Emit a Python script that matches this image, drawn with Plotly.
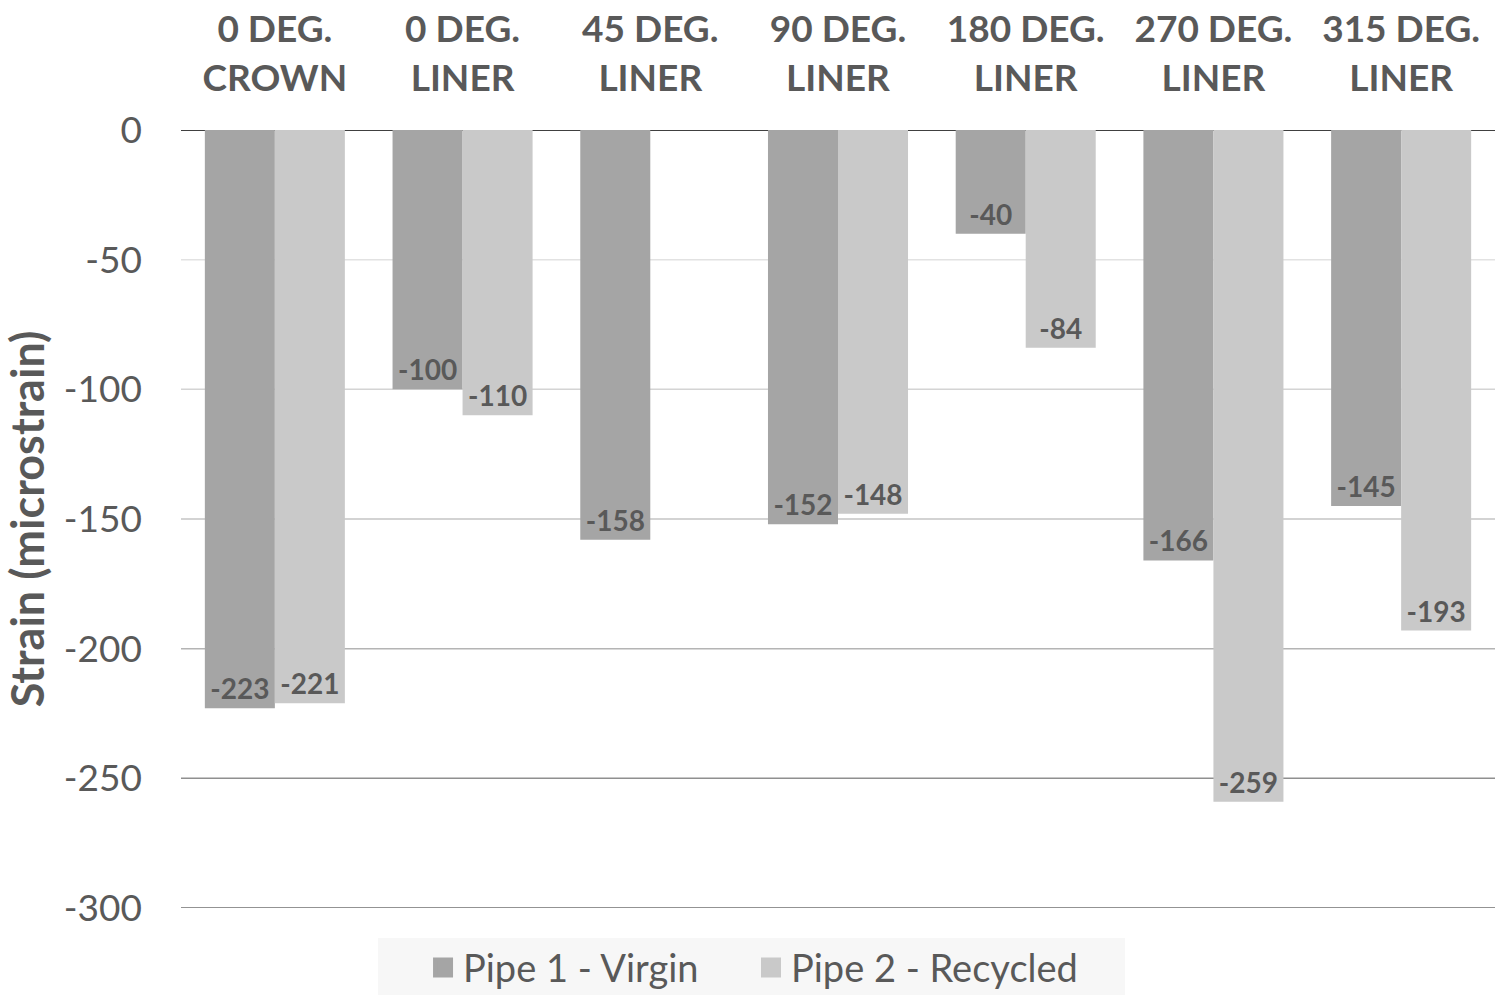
import plotly.graph_objects as go

# Strain measured at each gauge location
locations = ["0 DEG.<br>CROWN", "0 DEG.<br>LINER", "45 DEG.<br>LINER", "90 DEG.<br>LINER",
             "180 DEG.<br>LINER", "270 DEG.<br>LINER", "315 DEG.<br>LINER"]
pipe1_virgin = [-223, -100, -158, -152, -40, -166, -145]
pipe2_recycled = [-221, -110, None, -148, -84, -259, -193]

y_ticks = [0, -50, -100, -150, -200, -250, -300]
y_tick_text = ["0", "-50", "-100", "-150", "-200", "-250", "-300"]
grid_colors = ["#404040", "#e2e2e2", "#d4d4d4", "#c4c4c4", "#b4b4b4", "#8f8f8f", "#6f6f6f"]

FONT = "Lato"
TEXT = "#595959"
series = [("Pipe 1 - Virgin", pipe1_virgin, "#a5a5a5", "legend", 0.1842),
          ("Pipe 2 - Recycled", pipe2_recycled, "#c9c9c9", "legend2", 0.4338)]

fig = go.Figure()
for name, vals, color, _, _ in series:
    fig.add_trace(go.Bar(
        name=name, x=locations, y=vals, marker_color=color, marker_line_width=0,
        text=[("" if v is None else str(v)) for v in vals],
        textposition="inside", insidetextanchor="end", textangle=0,
        constraintext="none", showlegend=False,
        textfont=dict(family=FONT, size=28, color=TEXT, weight="bold"),
    ))

# legend entries with large square swatches, one legend per series
legend_layout = {}
for name, vals, color, leg, lx in series:
    fig.add_trace(go.Scatter(
        name=name, x=[None], y=[None], mode="markers", legend=leg,
        marker=dict(symbol="square", size=16, color=color,
                    line=dict(color=color, width=4)),
        showlegend=True,
    ))
    legend_layout[leg] = dict(
        orientation="h", xref="paper", x=lx, xanchor="left",
        yref="container", y=0.059, yanchor="top",
        bgcolor="rgba(0,0,0,0)", font=dict(family=FONT, size=38, color=TEXT),
        itemsizing="trace", itemwidth=30)

# horizontal gridlines, each at a tick value
for v, c in zip(y_ticks, grid_colors):
    fig.add_shape(type="line", xref="paper", yref="y", x0=0, x1=1, y0=v, y1=v,
                  line=dict(color=c, width=2 if v == 0 else 1.5), layer="below")

# legend panel background
fig.add_shape(type="rect", xref="paper", yref="paper", x0=0.1499, x1=0.7184,
              y0=-0.0386, y1=-0.13, fillcolor="#f7f7f7", line_width=0, layer="below")

fig.update_layout(
    width=1495, height=995,
    margin=dict(l=181, r=0, t=130, b=87),
    paper_bgcolor="white", plot_bgcolor="white",
    barmode="group", bargap=0.254, bargroupgap=0,
    font=dict(family=FONT, color=TEXT),
    xaxis=dict(side="top", showgrid=False, showline=False, ticks="", ticklabelstandoff=31,
               tickfont=dict(family=FONT, size=37, color=TEXT, weight="bold")),
    yaxis=dict(range=[-300, 0], tickvals=y_ticks, ticktext=y_tick_text,
               showgrid=False, zeroline=False, showline=False, ticks="",
               ticklabelstandoff=38,
               tickfont=dict(family=FONT, size=37, color=TEXT),
               title=dict(text="Strain (microstrain)", standoff=18,
                          font=dict(family=FONT, size=45, color=TEXT, weight="bold"))),
    **legend_layout,
)

fig.write_html("out.html")
